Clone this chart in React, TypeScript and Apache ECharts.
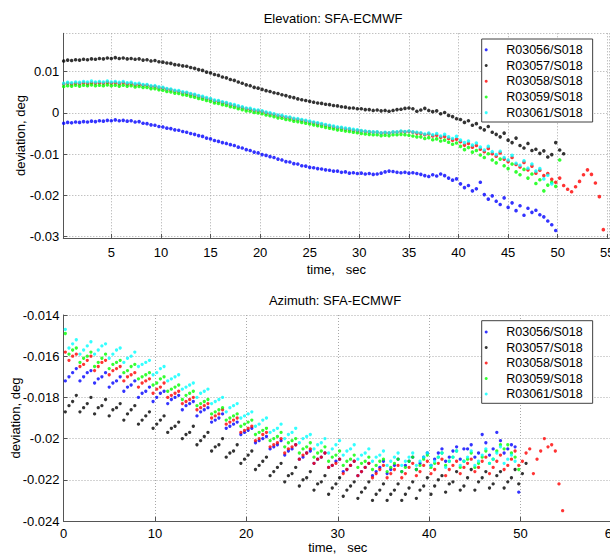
import React, { useEffect, useRef } from 'react';
import * as echarts from 'echarts';

// Shared sample times (sec)
const TIME = [
  0.2, 0.6, 1.0, 1.4, 1.8, 2.2, 2.6, 3.0, 3.4, 3.8,
  4.2, 4.6, 5.0, 5.4, 5.8, 6.2, 6.6, 7.0, 7.4, 7.8,
  8.2, 8.6, 9.0, 9.4, 9.8, 10.2, 10.6, 11.0, 11.4, 11.8,
  12.2, 12.6, 13.0, 13.4, 13.8, 14.2, 14.6, 15.0, 15.4, 15.8,
  16.2, 16.6, 17.0, 17.4, 17.8, 18.2, 18.6, 19.0, 19.4, 19.8,
  20.2, 20.6, 21.0, 21.4, 21.8, 22.2, 22.6, 23.0, 23.4, 23.8,
  24.2, 24.6, 25.0, 25.4, 25.8, 26.2, 26.6, 27.0, 27.4, 27.8,
  28.2, 28.6, 29.0, 29.4, 29.8, 30.2, 30.6, 31.0, 31.4, 31.8,
  32.2, 32.6, 33.0, 33.4, 33.8, 34.2, 34.6, 35.0, 35.4, 35.8,
  36.2, 36.6, 37.0, 37.4, 37.8, 38.2, 38.6, 39.0, 39.4, 39.8,
  40.2, 40.6, 41.0, 41.4, 41.8, 42.2, 42.6, 43.0, 43.4, 43.8,
  44.2, 44.6, 45.0, 45.4, 45.8, 46.2, 46.6, 47.0, 47.4, 47.8,
  48.2, 48.6, 49.0, 49.4, 49.8, 50.2, 50.6, 51.0, 51.4, 51.8,
  52.2, 52.6, 53.0, 53.4, 53.8, 54.2, 54.6,
];

const SERIES_NAMES = ['R03056/S018', 'R03057/S018', 'R03058/S018', 'R03059/S018', 'R03061/S018'];
const COLORS = ['#0000ff', '#000000', '#ff0000', '#00ff00', '#00ffff'];

const TITLE_EL = 'Elevation: SFA-ECMWF';
const TITLE_AZ = 'Azimuth: SFA-ECMWF';
const X_NAME = 'time,   sec';
const Y_NAME = 'deviation, deg';

// ---------- Elevation deviation (deg) ----------
const EL_R03056 = [
  -0.0025, -0.0023, -0.0024, -0.0022, -0.0023, -0.0021, -0.0022, -0.0020, -0.0021, -0.0019,
  -0.0020, -0.0018, -0.0019, -0.0017, -0.0019, -0.0018, -0.0020, -0.0019, -0.0022, -0.0021,
  -0.0025, -0.0026, -0.0029, -0.0030, -0.0033, -0.0034, -0.0037, -0.0038, -0.0041, -0.0042,
  -0.0045, -0.0047, -0.0050, -0.0052, -0.0055, -0.0057, -0.0061, -0.0063, -0.0067, -0.0069,
  -0.0072, -0.0074, -0.0077, -0.0079, -0.0083, -0.0085, -0.0089, -0.0091, -0.0095, -0.0097,
  -0.0101, -0.0103, -0.0106, -0.0108, -0.0112, -0.0114, -0.0118, -0.0119, -0.0123, -0.0124,
  -0.0128, -0.0129, -0.0132, -0.0133, -0.0135, -0.0136, -0.0138, -0.0139, -0.0141, -0.0141,
  -0.0144, -0.0143, -0.0146, -0.0145, -0.0147, -0.0146, -0.0148, -0.0147, -0.0149, -0.0148,
  -0.0146, -0.0143, -0.0141, -0.0142, -0.0144, -0.0145, -0.0144, -0.0146, -0.0145, -0.0147,
  -0.0149, -0.0152, -0.0154, -0.0150, -0.0153, -0.0148, -0.0152, -0.0158, -0.0163, -0.0160,
  -0.0172, -0.0181, -0.0176, -0.0189, -0.0184, -0.0168, -0.0198, -0.0209, -0.0201, -0.0214,
  -0.0222, -0.0206, -0.0229, -0.0218, -0.0237, -0.0225, -0.0248, -0.0231, -0.0241, -0.0236,
  -0.0247, -0.0252, -0.0262, -0.0271, -0.0285,
];
const EL_R03057 = [
  0.0126, 0.0128, 0.0127, 0.0129, 0.0128, 0.0130, 0.0129, 0.0131, 0.0130, 0.0132,
  0.0131, 0.0133, 0.0132, 0.0134, 0.0132, 0.0133, 0.0131, 0.0132, 0.0130, 0.0131,
  0.0128, 0.0129, 0.0126, 0.0127, 0.0124, 0.0123, 0.0121, 0.0120, 0.0117, 0.0116,
  0.0114, 0.0113, 0.0110, 0.0108, 0.0105, 0.0103, 0.0099, 0.0097, 0.0093, 0.0091,
  0.0087, 0.0085, 0.0081, 0.0079, 0.0075, 0.0072, 0.0068, 0.0066, 0.0062, 0.0060,
  0.0057, 0.0054, 0.0052, 0.0049, 0.0047, 0.0044, 0.0042, 0.0039, 0.0037, 0.0034,
  0.0032, 0.0030, 0.0028, 0.0026, 0.0024, 0.0023, 0.0021, 0.0020, 0.0018, 0.0017,
  0.0015, 0.0014, 0.0012, 0.0012, 0.0010, 0.0010, 0.0008, 0.0008, 0.0006, 0.0007,
  0.0005, 0.0006, 0.0004, 0.0006, 0.0008, 0.0009, 0.0011, 0.0012, 0.0010, 0.0004,
  0.0007, 0.0011, 0.0006, 0.0003, 0.0005, -0.0002, 0.0001, -0.0006, -0.0009, -0.0014,
  -0.0016, -0.0023, -0.0019, -0.0030, -0.0026, -0.0036, -0.0041, -0.0033, -0.0047, -0.0052,
  -0.0058, -0.0049, -0.0066, -0.0072, -0.0061, -0.0079, -0.0085, -0.0074, -0.0091, -0.0088,
  -0.0098, -0.0092, -0.0107, -0.0101, -0.0072, -0.0090, -0.0099,
];
const EL_R03058 = [
  0.0070, 0.0072, 0.0070, 0.0072, 0.0071, 0.0073, 0.0071, 0.0073, 0.0072, 0.0073,
  0.0072, 0.0074, 0.0072, 0.0073, 0.0071, 0.0073, 0.0070, 0.0071, 0.0068, 0.0069,
  0.0067, 0.0067, 0.0064, 0.0064, 0.0061, 0.0060, 0.0057, 0.0056, 0.0053, 0.0052,
  0.0049, 0.0048, 0.0045, 0.0043, 0.0040, 0.0038, 0.0035, 0.0033, 0.0029, 0.0028,
  0.0025, 0.0023, 0.0020, 0.0018, 0.0015, 0.0013, 0.0010, 0.0009, 0.0006, 0.0005,
  0.0003, 0.0000, -0.0002, -0.0004, -0.0007, -0.0008, -0.0011, -0.0012, -0.0015, -0.0016,
  -0.0018, -0.0020, -0.0022, -0.0024, -0.0026, -0.0028, -0.0030, -0.0032, -0.0034, -0.0036,
  -0.0037, -0.0039, -0.0040, -0.0042, -0.0043, -0.0044, -0.0045, -0.0046, -0.0047, -0.0047,
  -0.0049, -0.0048, -0.0049, -0.0047, -0.0047, -0.0045, -0.0046, -0.0045, -0.0047, -0.0049,
  -0.0050, -0.0053, -0.0051, -0.0056, -0.0054, -0.0059, -0.0057, -0.0062, -0.0066, -0.0064,
  -0.0070, -0.0078, -0.0074, -0.0083, -0.0079, -0.0088, -0.0094, -0.0086, -0.0099, -0.0105,
  -0.0097, -0.0112, -0.0118, -0.0108, -0.0125, -0.0131, -0.0120, -0.0138, -0.0129, -0.0146,
  -0.0139, -0.0152, -0.0147, -0.0161, -0.0168, -0.0158, -0.0176, -0.0185, -0.0191, -0.0179,
  -0.0166, -0.0150, -0.0138, -0.0149, -0.0170, -0.0203, -0.0283,
];
const EL_R03059 = [
  0.0064, 0.0066, 0.0065, 0.0067, 0.0065, 0.0067, 0.0066, 0.0068, 0.0066, 0.0067,
  0.0066, 0.0068, 0.0066, 0.0067, 0.0065, 0.0067, 0.0065, 0.0066, 0.0063, 0.0064,
  0.0062, 0.0062, 0.0059, 0.0059, 0.0056, 0.0055, 0.0052, 0.0051, 0.0048, 0.0047,
  0.0044, 0.0043, 0.0040, 0.0038, 0.0035, 0.0033, 0.0030, 0.0028, 0.0024, 0.0023,
  0.0020, 0.0018, 0.0015, 0.0013, 0.0010, 0.0008, 0.0005, 0.0004, 0.0001, 0.0000,
  -0.0002, -0.0005, -0.0007, -0.0009, -0.0012, -0.0013, -0.0016, -0.0017, -0.0020, -0.0021,
  -0.0023, -0.0025, -0.0027, -0.0029, -0.0031, -0.0033, -0.0035, -0.0037, -0.0039, -0.0041,
  -0.0042, -0.0044, -0.0045, -0.0047, -0.0048, -0.0050, -0.0051, -0.0052, -0.0053, -0.0053,
  -0.0055, -0.0054, -0.0055, -0.0053, -0.0053, -0.0052, -0.0053, -0.0054, -0.0056, -0.0058,
  -0.0058, -0.0062, -0.0060, -0.0065, -0.0063, -0.0068, -0.0066, -0.0071, -0.0076, -0.0073,
  -0.0081, -0.0089, -0.0084, -0.0095, -0.0091, -0.0102, -0.0108, -0.0099, -0.0114, -0.0121,
  -0.0112, -0.0128, -0.0135, -0.0124, -0.0143, -0.0150, -0.0137, -0.0158, -0.0148, -0.0171,
  -0.0162, -0.0189, -0.0175, -0.0168, -0.0178, -0.0114,
];
const EL_R03061 = [
  0.0072, 0.0074, 0.0073, 0.0075, 0.0074, 0.0076, 0.0075, 0.0077, 0.0075, 0.0076,
  0.0075, 0.0077, 0.0075, 0.0076, 0.0074, 0.0076, 0.0073, 0.0074, 0.0071, 0.0072,
  0.0069, 0.0069, 0.0066, 0.0066, 0.0063, 0.0062, 0.0059, 0.0058, 0.0055, 0.0054,
  0.0051, 0.0050, 0.0047, 0.0045, 0.0042, 0.0040, 0.0037, 0.0035, 0.0031, 0.0030,
  0.0027, 0.0025, 0.0022, 0.0020, 0.0017, 0.0015, 0.0012, 0.0011, 0.0008, 0.0007,
  0.0005, 0.0002, 0.0000, -0.0002, -0.0005, -0.0006, -0.0009, -0.0010, -0.0013, -0.0014,
  -0.0016, -0.0018, -0.0020, -0.0022, -0.0024, -0.0026, -0.0028, -0.0030, -0.0032, -0.0034,
  -0.0035, -0.0037, -0.0038, -0.0040, -0.0041, -0.0043, -0.0044, -0.0045, -0.0046, -0.0046,
  -0.0048, -0.0047, -0.0048, -0.0046, -0.0046, -0.0044, -0.0045, -0.0044, -0.0046, -0.0047,
  -0.0048, -0.0051, -0.0049, -0.0053, -0.0050, -0.0056, -0.0052, -0.0058, -0.0062, -0.0057,
  -0.0066, -0.0072, -0.0068, -0.0078, -0.0073, -0.0083, -0.0090, -0.0081, -0.0094, -0.0101,
  -0.0093, -0.0108, -0.0114, -0.0103, -0.0122, -0.0127, -0.0116, -0.0134, -0.0124, -0.0141,
  -0.0135, -0.0160, -0.0151, -0.0172,
];

// ---------- Azimuth deviation (deg) ----------
const AZ_R03056 = [
  -0.0172, -0.0170, -0.0168, -0.0166, -0.0172, -0.0170, -0.0168, -0.0167, -0.0173, -0.0171,
  -0.0170, -0.0168, -0.0175, -0.0173, -0.0172, -0.0170, -0.0177, -0.0175, -0.0174, -0.0172,
  -0.0180, -0.0178, -0.0177, -0.0175, -0.0182, -0.0180, -0.0178, -0.0177, -0.0183, -0.0181,
  -0.0180, -0.0179, -0.0186, -0.0184, -0.0183, -0.0182, -0.0189, -0.0187, -0.0186, -0.0185,
  -0.0192, -0.0191, -0.0190, -0.0188, -0.0195, -0.0194, -0.0193, -0.0192, -0.0198, -0.0197,
  -0.0196, -0.0195, -0.0202, -0.0201, -0.0200, -0.0199, -0.0205, -0.0204, -0.0203, -0.0201,
  -0.0208, -0.0206, -0.0205, -0.0203, -0.0210, -0.0209, -0.0207, -0.0206, -0.0212, -0.0210,
  -0.0209, -0.0207, -0.0214, -0.0213, -0.0211, -0.0210, -0.0216, -0.0215, -0.0213, -0.0211,
  -0.0218, -0.0216, -0.0214, -0.0212, -0.0218, -0.0216, -0.0214, -0.0211, -0.0217, -0.0215,
  -0.0213, -0.0210, -0.0216, -0.0213, -0.0211, -0.0209, -0.0215, -0.0212, -0.0209, -0.0207,
  -0.0213, -0.0210, -0.0207, -0.0205, -0.0211, -0.0209, -0.0206, -0.0204, -0.0210, -0.0205,
  -0.0205, -0.0203, -0.0209, -0.0207, -0.0198, -0.0202, -0.0208, -0.0205, -0.0197, -0.0201,
  -0.0207, -0.0205, -0.0203, -0.0204, -0.0226,
];
const AZ_R03057 = [
  -0.0187, -0.0184, -0.0182, -0.0179, -0.0187, -0.0185, -0.0183, -0.0180, -0.0188, -0.0185,
  -0.0184, -0.0181, -0.0189, -0.0186, -0.0185, -0.0183, -0.0191, -0.0188, -0.0186, -0.0184,
  -0.0193, -0.0191, -0.0189, -0.0187, -0.0195, -0.0193, -0.0191, -0.0189, -0.0197, -0.0195,
  -0.0194, -0.0192, -0.0200, -0.0198, -0.0197, -0.0194, -0.0203, -0.0201, -0.0199, -0.0197,
  -0.0206, -0.0204, -0.0203, -0.0200, -0.0209, -0.0207, -0.0206, -0.0203, -0.0212, -0.0210,
  -0.0208, -0.0206, -0.0215, -0.0213, -0.0211, -0.0209, -0.0218, -0.0216, -0.0214, -0.0212,
  -0.0221, -0.0218, -0.0217, -0.0214, -0.0223, -0.0220, -0.0219, -0.0216, -0.0225, -0.0222,
  -0.0221, -0.0218, -0.0227, -0.0224, -0.0222, -0.0219, -0.0228, -0.0225, -0.0223, -0.0221,
  -0.0229, -0.0226, -0.0224, -0.0221, -0.0230, -0.0227, -0.0225, -0.0222, -0.0230, -0.0227,
  -0.0225, -0.0222, -0.0230, -0.0227, -0.0224, -0.0221, -0.0229, -0.0225, -0.0223, -0.0219,
  -0.0227, -0.0223, -0.0220, -0.0218, -0.0226, -0.0222, -0.0221, -0.0216, -0.0225, -0.0223,
  -0.0219, -0.0215, -0.0225, -0.0221, -0.0219, -0.0216, -0.0224, -0.0222, -0.0218, -0.0216,
  -0.0224, -0.0221, -0.0219, -0.0215, -0.0222, -0.0217, -0.0212,
];
const AZ_R03058 = [
  -0.0158, -0.0162, -0.0160, -0.0159, -0.0165, -0.0164, -0.0162, -0.0160, -0.0167, -0.0165,
  -0.0163, -0.0162, -0.0169, -0.0167, -0.0166, -0.0165, -0.0172, -0.0170, -0.0169, -0.0168,
  -0.0175, -0.0173, -0.0172, -0.0171, -0.0178, -0.0176, -0.0175, -0.0173, -0.0180, -0.0179,
  -0.0178, -0.0177, -0.0183, -0.0182, -0.0181, -0.0180, -0.0186, -0.0185, -0.0184, -0.0183,
  -0.0190, -0.0189, -0.0188, -0.0186, -0.0193, -0.0192, -0.0191, -0.0190, -0.0197, -0.0196,
  -0.0195, -0.0194, -0.0201, -0.0200, -0.0198, -0.0197, -0.0204, -0.0203, -0.0202, -0.0200,
  -0.0207, -0.0205, -0.0204, -0.0203, -0.0210, -0.0208, -0.0207, -0.0205, -0.0212, -0.0210,
  -0.0209, -0.0207, -0.0214, -0.0213, -0.0212, -0.0210, -0.0217, -0.0215, -0.0213, -0.0211,
  -0.0218, -0.0216, -0.0214, -0.0212, -0.0219, -0.0217, -0.0215, -0.0213, -0.0219, -0.0217,
  -0.0215, -0.0213, -0.0219, -0.0217, -0.0214, -0.0212, -0.0218, -0.0216, -0.0213, -0.0211,
  -0.0217, -0.0215, -0.0212, -0.0210, -0.0218, -0.0215, -0.0213, -0.0211, -0.0217, -0.0214,
  -0.0212, -0.0210, -0.0216, -0.0214, -0.0211, -0.0209, -0.0217, -0.0214, -0.0211, -0.0208,
  -0.0215, -0.0213, -0.0210, -0.0206, -0.0213, -0.0211, -0.0207, -0.0205, -0.0217, -0.0210,
  -0.0206, -0.0200, -0.0204, -0.0203, -0.0206, -0.0222, -0.0235,
];
const AZ_R03059 = [
  -0.0149, -0.0159, -0.0157, -0.0156, -0.0163, -0.0161, -0.0160, -0.0158, -0.0165, -0.0163,
  -0.0161, -0.0159, -0.0166, -0.0164, -0.0163, -0.0162, -0.0168, -0.0167, -0.0165, -0.0164,
  -0.0171, -0.0170, -0.0169, -0.0168, -0.0174, -0.0173, -0.0171, -0.0170, -0.0177, -0.0176,
  -0.0175, -0.0174, -0.0181, -0.0179, -0.0178, -0.0177, -0.0184, -0.0183, -0.0182, -0.0181,
  -0.0188, -0.0187, -0.0186, -0.0185, -0.0191, -0.0190, -0.0189, -0.0188, -0.0194, -0.0193,
  -0.0192, -0.0191, -0.0198, -0.0197, -0.0196, -0.0195, -0.0201, -0.0200, -0.0199, -0.0197,
  -0.0204, -0.0202, -0.0201, -0.0200, -0.0207, -0.0205, -0.0204, -0.0202, -0.0209, -0.0207,
  -0.0206, -0.0204, -0.0211, -0.0209, -0.0208, -0.0206, -0.0213, -0.0211, -0.0210, -0.0208,
  -0.0214, -0.0212, -0.0211, -0.0209, -0.0215, -0.0213, -0.0211, -0.0210, -0.0216, -0.0214,
  -0.0212, -0.0210, -0.0216, -0.0214, -0.0211, -0.0209, -0.0215, -0.0213, -0.0210, -0.0208,
  -0.0214, -0.0212, -0.0209, -0.0207, -0.0213, -0.0211, -0.0209, -0.0206, -0.0214, -0.0211,
  -0.0210, -0.0207, -0.0214, -0.0212, -0.0209, -0.0206, -0.0212, -0.0210, -0.0206, -0.0203,
  -0.0205, -0.0203, -0.0207, -0.0209, -0.0215,
];
const AZ_R03061 = [
  -0.0147, -0.0156, -0.0154, -0.0152, -0.0159, -0.0157, -0.0155, -0.0153, -0.0159, -0.0157,
  -0.0155, -0.0154, -0.0161, -0.0159, -0.0157, -0.0156, -0.0163, -0.0161, -0.0160, -0.0158,
  -0.0165, -0.0164, -0.0163, -0.0162, -0.0169, -0.0168, -0.0166, -0.0165, -0.0172, -0.0171,
  -0.0170, -0.0169, -0.0176, -0.0175, -0.0174, -0.0173, -0.0180, -0.0178, -0.0177, -0.0176,
  -0.0183, -0.0182, -0.0181, -0.0180, -0.0187, -0.0185, -0.0184, -0.0183, -0.0190, -0.0189,
  -0.0188, -0.0187, -0.0194, -0.0193, -0.0191, -0.0190, -0.0197, -0.0196, -0.0195, -0.0193,
  -0.0200, -0.0198, -0.0197, -0.0195, -0.0202, -0.0200, -0.0199, -0.0198, -0.0205, -0.0203,
  -0.0202, -0.0200, -0.0207, -0.0205, -0.0203, -0.0201, -0.0208, -0.0206, -0.0205, -0.0203,
  -0.0210, -0.0208, -0.0207, -0.0205, -0.0211, -0.0209, -0.0208, -0.0206, -0.0213, -0.0211,
  -0.0209, -0.0207, -0.0213, -0.0211, -0.0209, -0.0207, -0.0213, -0.0211, -0.0209, -0.0207,
  -0.0213, -0.0211, -0.0209, -0.0207, -0.0214, -0.0211, -0.0209, -0.0206, -0.0213, -0.0211,
  -0.0209, -0.0206, -0.0213, -0.0211, -0.0208, -0.0205, -0.0212, -0.0210, -0.0207, -0.0204,
  -0.0212, -0.0210, -0.0208, -0.0211,
];

const EL_VALUES = [EL_R03056, EL_R03057, EL_R03058, EL_R03059, EL_R03061];
const AZ_VALUES = [AZ_R03056, AZ_R03057, AZ_R03058, AZ_R03059, AZ_R03061];

const FONT = '"Liberation Sans", Arial, Helvetica, sans-serif';
const AXIS_COLOR = '#555555';
const GRID_COLOR = '#a8a8a8';

function toPoints(values: number[]) {
  return values.map((v, i) => [TIME[i], v]);
}

function makeAxisCommon() {
  return {
    axisLine: { show: true, onZero: false, lineStyle: { color: AXIS_COLOR, width: 1 } },
    axisTick: { show: true, inside: true, length: 4, lineStyle: { color: AXIS_COLOR } },
    splitLine: { show: true, lineStyle: { color: GRID_COLOR, type: [1, 2], width: 1 } },
    axisLabel: { color: '#000', fontSize: 13, fontFamily: FONT },
    nameTextStyle: { color: '#000', fontSize: 13, fontFamily: FONT },
    nameMoveOverlap: false,
  };
}

function makeLegend(top: number, lineHeight: number, padTop: number) {
  return {
    orient: 'vertical',
    left: 481.7,
    top,
    data: SERIES_NAMES,
    icon: 'circle',
    itemWidth: 30,
    itemHeight: 3,
    itemGap: 0,
    padding: [padTop, 10, 1.5, 3],
    backgroundColor: '#ffffff',
    borderColor: '#404040',
    borderWidth: 1,
    borderRadius: 0,
    selectedMode: false,
    textStyle: { color: '#000', fontSize: 12.5, fontFamily: FONT, lineHeight },
  };
}

export default function App() {
  const ref = useRef<HTMLDivElement>(null);

  useEffect(() => {
    if (!ref.current) return;
    const chart = echarts.init(ref.current, null, { renderer: 'svg' });
    const common = makeAxisCommon();

    const series: any[] = [];
    SERIES_NAMES.forEach((name, i) => {
      series.push({
        type: 'scatter',
        name,
        xAxisIndex: 0,
        yAxisIndex: 0,
        symbol: 'circle',
        symbolSize: 3.6,
        itemStyle: { color: COLORS[i] },
        data: toPoints(EL_VALUES[i]),
      });
    });
    SERIES_NAMES.forEach((name, i) => {
      series.push({
        type: 'scatter',
        name,
        xAxisIndex: 1,
        yAxisIndex: 1,
        symbol: 'circle',
        symbolSize: 3.3,
        itemStyle: { color: COLORS[i] },
        data: toPoints(AZ_VALUES[i]),
      });
    });

    chart.setOption({
      animation: false,
      backgroundColor: '#ffffff',
      textStyle: { fontFamily: FONT },
      title: [
        {
          text: TITLE_EL,
          left: 333,
          top: 11.5,
          padding: 0,
          textAlign: 'center',
          textStyle: { color: '#000', fontSize: 13, fontWeight: 'normal', fontFamily: FONT },
        },
        {
          text: TITLE_AZ,
          left: 335,
          top: 293.5,
          padding: 0,
          textAlign: 'center',
          textStyle: { color: '#000', fontSize: 13, fontWeight: 'normal', fontFamily: FONT },
        },
      ],
      legend: [makeLegend(39, 15.7, 3), makeLegend(320.7, 15.5, 3.6)],
      grid: [
        { left: 63.3, top: 33.3, width: 546, height: 204.6, containLabel: false, outerBoundsMode: 'none' },
        { left: 63.5, top: 315, width: 548.5, height: 206, containLabel: false, outerBoundsMode: 'none' },
      ],
      xAxis: [
        {
          ...common,
          type: 'value',
          gridIndex: 0,
          min: 0.16,
          max: 55.2,
          splitNumber: 11,
          name: X_NAME,
          nameLocation: 'middle',
          nameGap: 25,
          axisLabel: { ...common.axisLabel, margin: 8, showMinLabel: false, showMaxLabel: false },
        },
        {
          ...common,
          type: 'value',
          gridIndex: 1,
          min: 0,
          max: 60,
          interval: 10,
          name: X_NAME,
          nameLocation: 'middle',
          nameGap: 20,
          axisLabel: { ...common.axisLabel, margin: 6 },
        },
      ],
      yAxis: [
        {
          ...common,
          type: 'value',
          gridIndex: 0,
          min: -0.0303,
          max: 0.0193,
          splitNumber: 5,
          name: Y_NAME,
          nameLocation: 'middle',
          nameGap: 36,
          axisLabel: { ...common.axisLabel, margin: 4, showMinLabel: false, showMaxLabel: false },
        },
        {
          ...common,
          type: 'value',
          gridIndex: 1,
          min: -0.024,
          max: -0.014,
          interval: 0.002,
          name: Y_NAME,
          nameLocation: 'middle',
          nameGap: 42,
          axisLabel: { ...common.axisLabel, margin: 4 },
        },
      ],
      series,
    });

    return () => {
      chart.dispose();
    };
  }, []);

  return (
    <div
      style={{
        position: 'fixed',
        left: 0,
        top: 0,
        width: 610,
        height: 554,
        overflow: 'hidden',
        background: '#ffffff',
      }}
    >
      <div ref={ref} style={{ width: 620, height: 554 }} />
    </div>
  );
}
